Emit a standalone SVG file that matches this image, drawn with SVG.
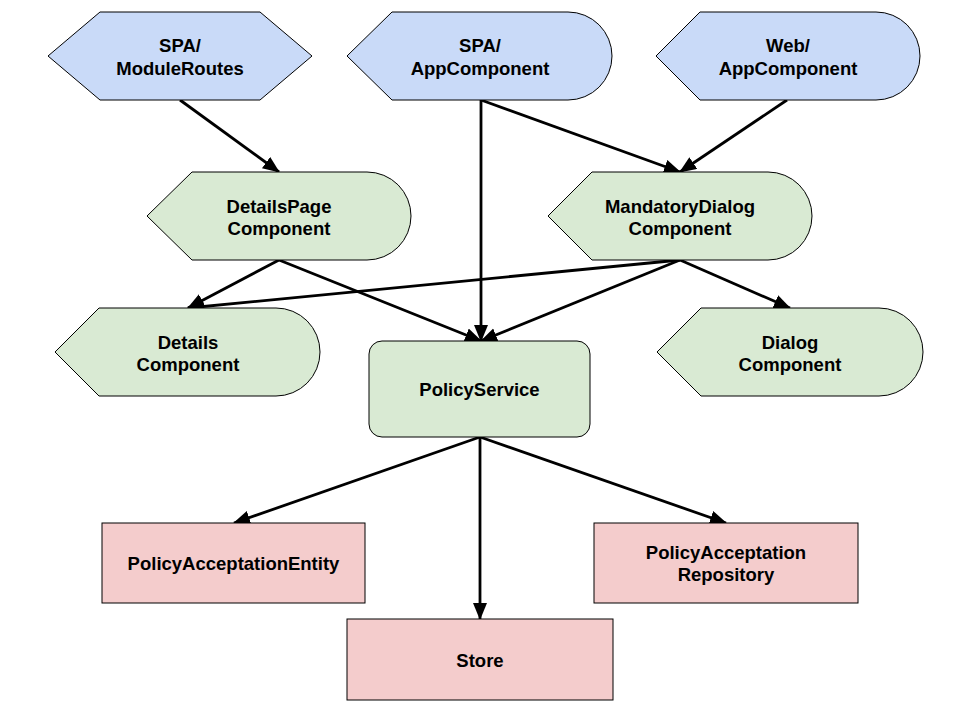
<svg xmlns="http://www.w3.org/2000/svg" width="960" height="720" viewBox="0 0 960 720">
<defs>
<style>
.blue{fill:#c9daf8;stroke:#000;stroke-width:1}
.green{fill:#d9ead3;stroke:#000;stroke-width:1}
.pink{fill:#f4cccc;stroke:#000;stroke-width:1}
text{font-family:"Liberation Sans",Arial,sans-serif;font-weight:bold;font-size:18.5px;fill:#000;text-anchor:middle}
.edge{stroke:#000;stroke-width:2.8;fill:none;marker-end:url(#arr)}
</style>
<marker id="arr" markerUnits="userSpaceOnUse" markerWidth="20" markerHeight="16" refX="16" refY="7" orient="auto">
<path d="M0,0 L17,7 L0,14 z" fill="#000"/>
</marker>
</defs>
<rect width="960" height="720" fill="#fff"/>
<g id="connectors">
<line class="edge" x1="180" y1="100" x2="279" y2="172"/>
<line class="edge" x1="481" y1="100" x2="481" y2="341"/>
<line class="edge" x1="481" y1="100" x2="680" y2="172"/>
<line class="edge" x1="787" y1="100" x2="680" y2="172"/>
<line class="edge" x1="279" y1="260" x2="188" y2="308"/>
<line class="edge" x1="279" y1="260" x2="481" y2="341"/>
<line class="edge" x1="680" y1="260" x2="188" y2="308"/>
<line class="edge" x1="680" y1="260" x2="481" y2="341"/>
<line class="edge" x1="680" y1="260" x2="790" y2="308"/>
<line class="edge" x1="480" y1="437" x2="234" y2="523"/>
<line class="edge" x1="480" y1="437" x2="480" y2="619"/>
<line class="edge" x1="480" y1="437" x2="726" y2="523"/>
</g>
<g id="spa-moduleroutes">
<path class="blue" d="M48,56 L100,12 L260,12 L312,56 L260,100 L100,100 Z"/>
<text x="180" y="52">SPA/</text>
<text x="180" y="75">ModuleRoutes</text>
</g>
<g id="spa-appcomponent">
<path class="blue" d="M347,56 L392,12 L568,12 A44,44 0 0 1 568,100 L392,100 Z"/>
<text x="480" y="52">SPA/</text>
<text x="480" y="75">AppComponent</text>
</g>
<g id="web-appcomponent">
<path class="blue" d="M656,56 L700,12 L876,12 A44,44 0 0 1 876,100 L700,100 Z"/>
<text x="788" y="52">Web/</text>
<text x="788" y="75">AppComponent</text>
</g>
<g id="detailspage">
<path class="green" d="M147,216 L192,172 L367,172 A44,44 0 0 1 367,260 L192,260 Z"/>
<text x="279" y="213">DetailsPage</text>
<text x="279" y="235">Component</text>
</g>
<g id="mandatorydialog">
<path class="green" d="M548,216 L592,172 L768,172 A44,44 0 0 1 768,260 L592,260 Z"/>
<text x="680" y="213">MandatoryDialog</text>
<text x="680" y="235">Component</text>
</g>
<g id="details">
<path class="green" d="M55,352 L99,308 L276,308 A44,44 0 0 1 276,396 L99,396 Z"/>
<text x="188" y="349">Details</text>
<text x="188" y="371">Component</text>
</g>
<g id="dialog">
<path class="green" d="M657,352 L701,308 L879,308 A44,44 0 0 1 879,396 L701,396 Z"/>
<text x="790" y="349">Dialog</text>
<text x="790" y="371">Component</text>
</g>
<g id="policyservice">
<rect class="green" x="369" y="341" width="221" height="96" rx="13" ry="13"/>
<text x="479.5" y="396">PolicyService</text>
</g>
<g id="entity">
<rect class="pink" x="102" y="523" width="263" height="80"/>
<text x="233.5" y="570">PolicyAcceptationEntity</text>
</g>
<g id="repository">
<rect class="pink" x="594" y="523" width="264" height="80"/>
<text x="726" y="559">PolicyAcceptation</text>
<text x="726" y="581">Repository</text>
</g>
<g id="store">
<rect class="pink" x="347" y="619" width="266" height="81"/>
<text x="480" y="667">Store</text>
</g>
</svg>
